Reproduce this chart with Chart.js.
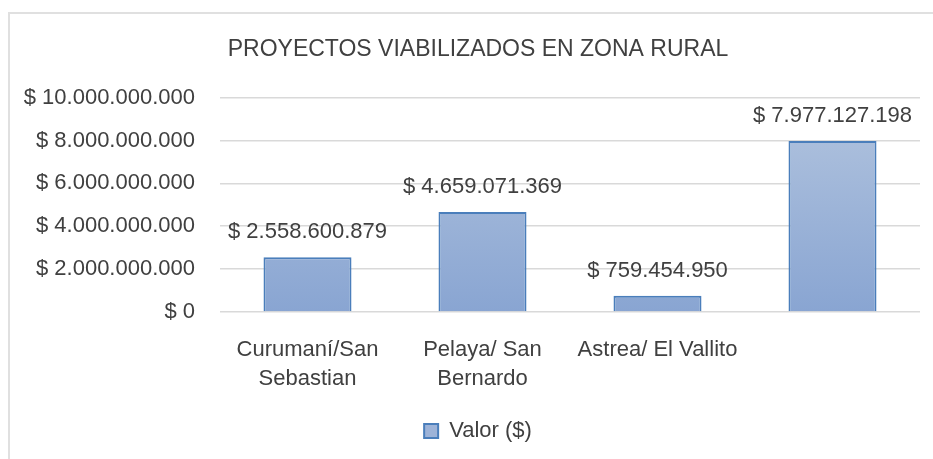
<!DOCTYPE html>
<html>
<head>
<meta charset="utf-8">
<script src="https://cdn.jsdelivr.net/npm/chart.js@4.4.0/dist/chart.umd.min.js"></script>
<style>
  html, body { margin: 0; padding: 0; background: #fff; overflow: hidden; }
  #box {
    position: absolute; left: 8px; top: 12px;
    width: 1000px; height: 500px;
    border-top: 2px solid #e0e0e0; border-left: 2px solid #e0e0e0;
  }
  #wrap { position: absolute; left: 0; top: 0; width: 936px; height: 450px; }
</style>
</head>
<body>
<div id="box"><div id="wrap"><canvas id="myChart"></canvas></div></div>
<script>
const categories = [['Curumaní/San', 'Sebastian'], ['Pelaya/ San', 'Bernardo'], 'Astrea/ El Vallito', ''];
const valores = [2558600879, 4659071369, 759454950, 7977127198];
const yTicks = [0, 2000000000, 4000000000, 6000000000, 8000000000, 10000000000];

const FONT = "'Liberation Sans Narrow', 'Arial Narrow', 'Liberation Sans', sans-serif";
const TXT = '#404040';

function pesos(v) {
    return '$ ' + Math.round(v).toString().replace(/\B(?=(\d{3})+(?!\d))/g, '.');
}

// gradient per bar + value labels
const barStyle = {
    id: 'barStyle',
    beforeDatasetsDraw(chart) {
        const c = chart.ctx;
        chart.getDatasetMeta(0).data.forEach(el => {
            const g = c.createLinearGradient(0, el.y, 0, el.base);
            g.addColorStop(0, '#AABEDC');
            g.addColorStop(1, '#89A5D2');
            el.options.backgroundColor = g;
        });
    },
    afterDatasetsDraw(chart) {
        const c = chart.ctx;
        c.save();
        c.font = '22px ' + FONT;
        c.fillStyle = TXT;
        c.textAlign = 'center';
        c.textBaseline = 'middle';
        chart.getDatasetMeta(0).data.forEach((el, i) => {
            c.fillText(pesos(valores[i]), el.x, el.y - 25);
        });
        c.restore();
    }
};

var ctx = document.getElementById('myChart').getContext('2d');
var myChart = new Chart(ctx, {
    type: 'bar',
    data: {
        labels: categories,
        datasets: [{
            label: 'Valor ($)',
            data: valores,
            backgroundColor: '#9DB3D8',
            borderColor: '#4A7EBB',
            borderWidth: 2,
            categoryPercentage: 1,
            barPercentage: 0.503
        }]
    },
    options: {
        responsive: true,
        maintainAspectRatio: false,
        animation: false,
        layout: { padding: { left: 0, right: 0, top: 0, bottom: 12 } },
        plugins: {
            title: {
                display: true,
                text: 'PROYECTOS VIABILIZADOS EN ZONA RURAL',
                color: TXT,
                font: { family: FONT, size: 23, weight: 'normal' },
                padding: { top: 22, bottom: 34 }
            },
            legend: {
                position: 'bottom',
                labels: {
                    color: TXT,
                    font: { family: FONT, size: 22 },
                    boxWidth: 14,
                    boxHeight: 14,
                    padding: 10
                }
            },
            tooltip: { enabled: false }
        },
        scales: {
            x: {
                grid: { display: false },
                border: { display: false },
                ticks: {
                    color: TXT,
                    font: { family: FONT, size: 22, lineHeight: 1.32 },
                    padding: 15,
                    maxRotation: 0,
                    autoSkip: false
                },
                afterFit(s) { s.height = 98; }
            },
            y: {
                min: 0,
                max: 10000000000,
                afterBuildTicks(s) { s.ticks = yTicks.map(v => ({ value: v })); },
                grid: { color: '#d9d9d9', lineWidth: 1.5, drawTicks: false },
                border: { display: false },
                ticks: {
                    color: TXT,
                    font: { family: FONT, size: 22 },
                    padding: 25,
                    callback: v => pesos(v)
                },
                afterFit(s) { s.width = 210; }
            },
            // empty right axis, only keeps a margin on the right of the plot
            yRight: {
                position: 'right',
                grid: { display: false },
                border: { display: false },
                ticks: { display: false },
                afterFit(s) { s.width = 26; }
            }
        }
    },
    plugins: [barStyle]
});
</script>
</body>
</html>
